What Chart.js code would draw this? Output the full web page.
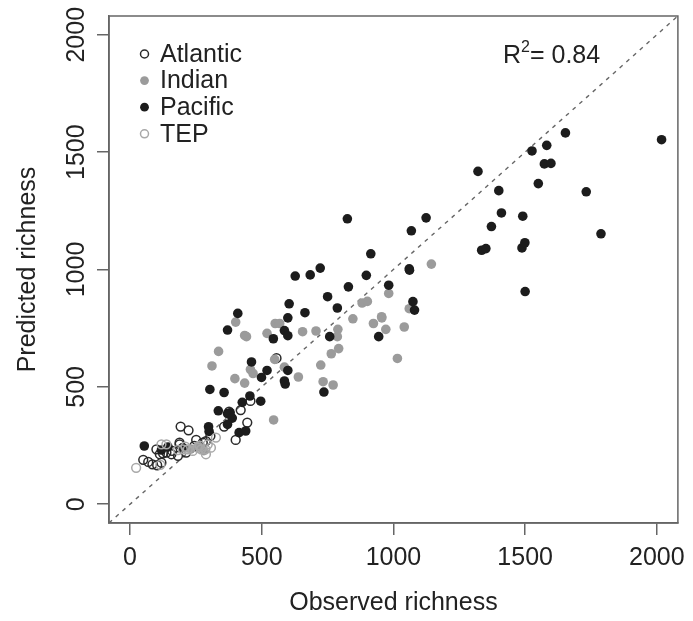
<!DOCTYPE html>
<html>
<head>
<meta charset="utf-8">
<script src="https://cdn.jsdelivr.net/npm/chart.js@4"></script>
<style>
  html, body { margin: 0; padding: 0; background: #fff; }
  #wrap { width: 693px; height: 621px; }
</style>
</head>
<body>
<div id="wrap"><canvas id="chart" width="693" height="621"></canvas></div>
<script>
// observed vs predicted richness, one pair of arrays per region
const atlanticObs = [556, 376, 420, 457, 445, 401, 192, 222, 357, 305, 100, 138, 113, 188, 50, 69, 85, 103, 119, 157, 182, 213, 244, 276, 288, 125, 160, 251, 188];
const atlanticPred = [622, 394, 401, 440, 348, 274, 331, 315, 331, 291, 234, 220, 213, 262, 189, 180, 170, 166, 177, 213, 206, 220, 248, 262, 269, 217, 227, 274, 255];

const indianObs = [1144, 982, 1060, 955, 881, 901, 846, 924, 956, 971, 1041, 789, 787, 792, 764, 1015, 771, 733, 724, 401, 551, 568, 435, 442, 520, 655, 706, 336, 311, 398, 435, 457, 467, 549, 586, 639, 545, 230, 260, 280];
const indianPred = [1023, 898, 833, 799, 857, 864, 790, 770, 794, 745, 755, 745, 714, 663, 641, 621, 508, 522, 593, 776, 770, 770, 719, 714, 728, 735, 738, 651, 589, 535, 516, 574, 557, 617, 584, 542, 359, 235, 245, 228];

const pacificObs = [2018, 1653, 1582, 1526, 1573, 1598, 1550, 1732, 1321, 1400, 1410, 1491, 1372, 1788, 1335, 1351, 1488, 1499, 1500, 1124, 1068, 1060, 1061, 982, 1074, 1080, 825, 914, 722, 684, 627, 897, 829, 750, 787, 604, 664, 409, 599, 370, 586, 544, 599, 758, 944, 461, 520, 599, 499, 586, 589, 736, 303, 357, 455, 426, 496, 335, 370, 380, 388, 370, 298, 300, 414, 439, 54, 144, 119, 200];
const pacificPred = [1553, 1582, 1529, 1505, 1450, 1452, 1366, 1331, 1418, 1336, 1241, 1227, 1183, 1152, 1082, 1089, 1092, 1114, 906, 1220, 1165, 1003, 997, 933, 863, 827, 1216, 1067, 1006, 977, 972, 975, 926, 884, 836, 854, 816, 813, 794, 742, 740, 705, 718, 714, 714, 606, 570, 570, 540, 525, 512, 478, 489, 476, 461, 434, 439, 398, 386, 390, 367, 340, 330, 310, 305, 312, 248, 244, 231, 241];

const tepObs = [23, 119, 138, 115, 326, 288, 307, 182, 200, 219, 238, 257, 270, 286, 210, 265, 295];
const tepPred = [155, 255, 255, 168, 284, 213, 241, 231, 234, 234, 227, 241, 234, 234, 245, 250, 255];

const oneToOne = [-80, 2080];
const axisTicks = [0, 500, 1000, 1500, 2000];
const r2Text = "0.84";

const FONT = "'Liberation Sans', Arial, sans-serif";
const TXT = "#222";
const AX = "#666";

function pts(xs, ys) {
  return xs.map((x, i) => ({ x: x, y: ys[i] }));
}

const series = [
  { label: "Atlantic", data: pts(atlanticObs, atlanticPred), fill: "rgba(0,0,0,0)", stroke: "#2a2a2a", open: true },
  { label: "Indian", data: pts(indianObs, indianPred), fill: "#9b9b9b", stroke: "#9b9b9b", open: false },
  { label: "Pacific", data: pts(pacificObs, pacificPred), fill: "#1c1c1c", stroke: "#1c1c1c", open: false },
  { label: "TEP", data: pts(tepObs, tepPred), fill: "rgba(0,0,0,0)", stroke: "#a8a8a8", open: true }
];

// legend inside plot + R^2 label + full box
const decor = {
  id: "decor",
  afterDraw(chart) {
    const { ctx, chartArea } = chart;
    ctx.save();
    ctx.strokeStyle = AX;
    ctx.lineWidth = 1.5;
    ctx.strokeRect(chartArea.left, chartArea.top, chartArea.right - chartArea.left, chartArea.bottom - chartArea.top);

    ctx.font = "25px " + FONT;
    ctx.textBaseline = "middle";
    ctx.textAlign = "left";
    series.forEach((s, i) => {
      const y = 54 + i * 26.6;
      ctx.beginPath();
      ctx.arc(144.5, y, s.open ? 4 : 4.4, 0, Math.PI * 2);
      if (s.open) {
        ctx.lineWidth = 1.5;
        ctx.strokeStyle = s.stroke;
        ctx.stroke();
      } else {
        ctx.fillStyle = s.fill;
        ctx.fill();
      }
      ctx.fillStyle = TXT;
      ctx.fillText(s.label, 160, y + 1);
    });

    // R^2 = 0.84
    ctx.textBaseline = "alphabetic";
    ctx.fillStyle = TXT;
    let x = 503;
    ctx.font = "25px " + FONT;
    ctx.fillText("R", x, 63);
    x += ctx.measureText("R").width;
    ctx.font = "16px " + FONT;
    ctx.fillText("2", x, 52);
    x += ctx.measureText("2").width;
    ctx.font = "25px " + FONT;
    ctx.fillText("= " + r2Text, x, 63);
    ctx.restore();
  }
};

const tickFont = { family: FONT, size: 25 };

const datasets = series.map((s, i) => ({
  type: "scatter",
  label: s.label,
  data: s.data,
  order: 4 - i,
  pointRadius: s.open ? 4.4 : 4.8,
  pointBorderWidth: s.open ? 1.5 : 0,
  pointBackgroundColor: s.fill,
  pointBorderColor: s.stroke,
  pointHoverRadius: 4
}));

datasets.push({
  type: "line",
  label: "1:1",
  data: pts(oneToOne, oneToOne),
  borderColor: "#666",
  borderWidth: 1.4,
  borderDash: [4, 5],
  pointRadius: 0,
  fill: false,
  order: 10
});

const plain = v => String(v);

new Chart(document.getElementById("chart"), {
  type: "scatter",
  data: { datasets: datasets },
  options: {
    responsive: false,
    animation: false,
    layout: { padding: { top: 16, right: 10, left: 0, bottom: 0 } },
    plugins: { legend: { display: false }, tooltip: { enabled: false } },
    scales: {
      x: {
        type: "linear",
        position: "bottom",
        min: -80,
        max: 2080,
        afterFit(s) { s.height = 98; },
        afterBuildTicks(s) { s.ticks = axisTicks.map(v => ({ value: v })); },
        ticks: { font: tickFont, color: TXT, padding: 8, maxRotation: 0, autoSkip: false, callback: plain },
        grid: { drawOnChartArea: false, drawTicks: true, tickLength: 12, color: AX, lineWidth: 1.5 },
        border: { display: true, color: AX, width: 1.5 },
        title: { display: true, text: "Observed richness", font: tickFont, color: TXT, padding: { top: 0, bottom: 3 } }
      },
      y: {
        type: "linear",
        position: "left",
        min: -80,
        max: 2080,
        afterFit(s) { s.width = 109; },
        afterBuildTicks(s) { s.ticks = axisTicks.map(v => ({ value: v })); },
        ticks: { font: tickFont, color: TXT, padding: -8, minRotation: 90, maxRotation: 90, crossAlign: "center", autoSkip: false, callback: plain },
        grid: { drawOnChartArea: false, drawTicks: true, tickLength: 12, color: AX, lineWidth: 1.5 },
        border: { display: true, color: AX, width: 1.5 },
        title: { display: true, text: "Predicted richness", font: tickFont, color: TXT, padding: { top: 13, bottom: 0 } }
      }
    }
  },
  plugins: [decor]
});
</script>
</body>
</html>
